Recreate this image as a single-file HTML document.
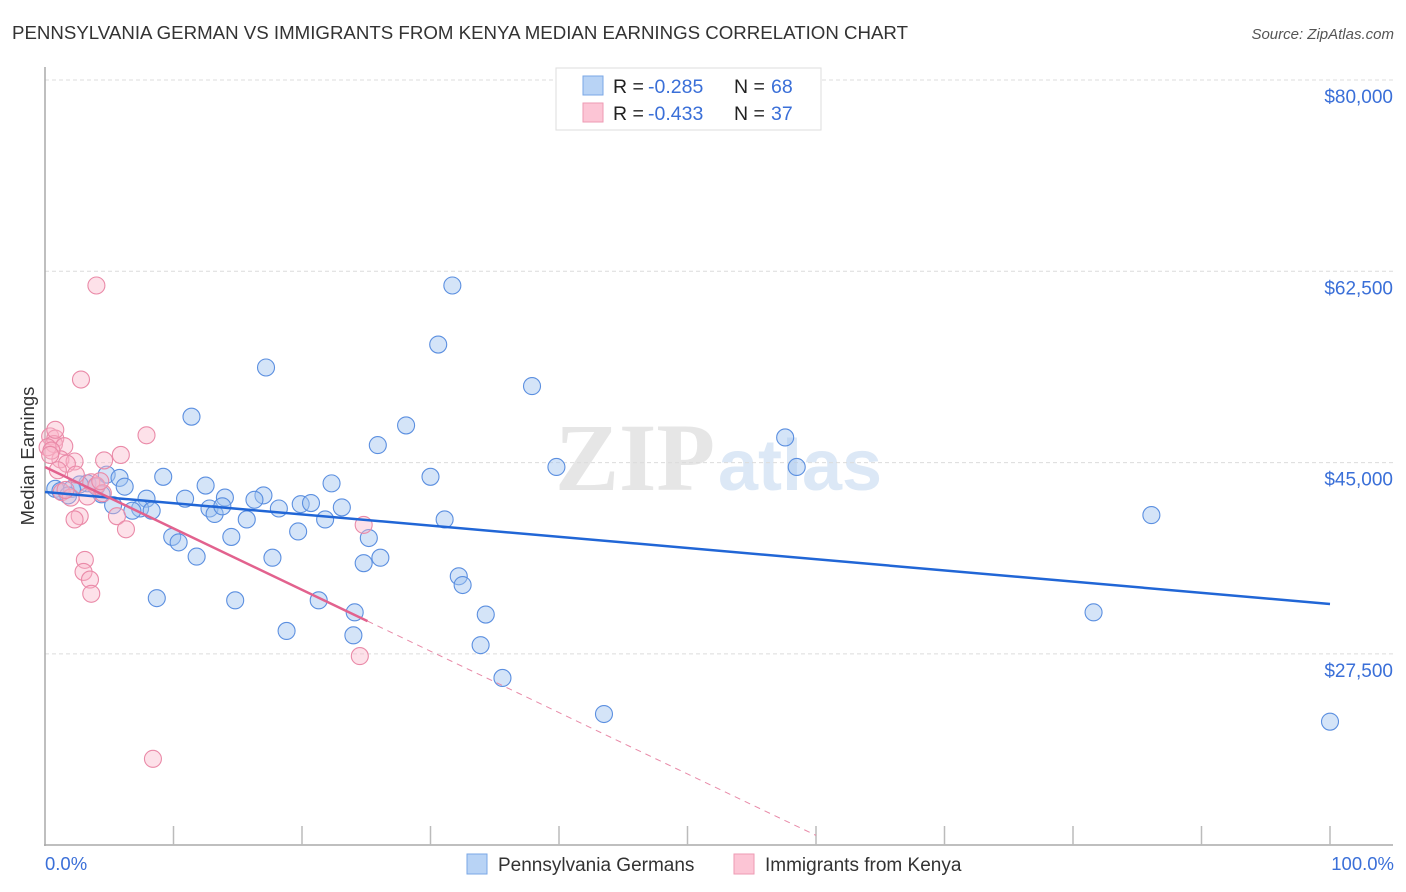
<!DOCTYPE html>
<html><head><meta charset="utf-8">
<style>
body{margin:0;background:#fff;font-family:"Liberation Sans",sans-serif;}
svg{display:block}
</style></head>
<body>
<svg id="chart" width="1406" height="892" xmlns="http://www.w3.org/2000/svg">
<text x="12" y="39" font-size="18.5" fill="#333" textLength="896" lengthAdjust="spacingAndGlyphs">PENNSYLVANIA GERMAN VS IMMIGRANTS FROM KENYA MEDIAN EARNINGS CORRELATION CHART</text>
<text x="1394" y="39" font-size="15" fill="#555" font-style="italic" text-anchor="end">Source: ZipAtlas.com</text>
<text x="0" y="0" transform="translate(34,456) rotate(-90)" font-size="18.5" fill="#333" text-anchor="middle">Median Earnings</text>
<g>
<text x="635" y="490" font-family="Liberation Serif,serif" font-size="96" fill="#e6e6e6" text-anchor="middle" font-weight="bold">ZIP</text>
<text x="800" y="490" font-size="72" fill="#dce8f6" text-anchor="middle" font-weight="bold">atlas</text>
</g>
<g id="grid"></g>
<g id="axes"></g>
<g id="marks"></g>
<g>
<rect x="556" y="68" width="265" height="62" fill="#fff" stroke="#ddd"/>
<rect x="583" y="76" width="20" height="19" fill="#b8d3f5" stroke="#7aa7e6"/>
<rect x="583" y="103" width="20" height="19" fill="#fcc5d5" stroke="#ee9ab3"/>
<text x="613" y="93" font-size="19.5" fill="#222">R = </text>
<text x="648" y="93" font-size="19.5" fill="#3a6fd8">-0.285</text>
<text x="734" y="93" font-size="19.5" fill="#222">N = </text>
<text x="771" y="93" font-size="19.5" fill="#3a6fd8">68</text>
<text x="613" y="120" font-size="19.5" fill="#222">R = </text>
<text x="648" y="120" font-size="19.5" fill="#3a6fd8">-0.433</text>
<text x="734" y="120" font-size="19.5" fill="#222">N = </text>
<text x="771" y="120" font-size="19.5" fill="#3a6fd8">37</text>
</g>
<g>
<rect x="467" y="854" width="20" height="20" fill="#b8d3f5" stroke="#7aa7e6"/>
<text x="498" y="871" font-size="19" fill="#333">Pennsylvania Germans</text>
<rect x="734" y="854" width="20" height="20" fill="#fcc5d5" stroke="#ee9ab3"/>
<text x="765" y="871" font-size="19" fill="#333">Immigrants from Kenya</text>
</g>
<text x="45" y="870" font-size="18.5" fill="#3a6fd8">0.0%</text>
<text x="1394" y="870" font-size="18.5" fill="#3a6fd8" text-anchor="end">100.0%</text>
</svg>
<script>
const yTicks=[80000,62500,45000,27500];
const yTickLabels=["$80,000","$62,500","$45,000","$27,500"];
const xTicks=[0,10,20,30,40,50,60,70,80,90,100];
const blueX=[31.7,30.6,17.2,37.9,11.4,28.1,25.9,57.6,58.5,39.8,9.2,4.8,5.8,3.3,6.2,0.8,4.0,2.7,12.5,30.0,22.3,17.0,16.3,14.0,10.9,7.9,4.4,5.3,7.4,8.3,6.8,12.8,13.2,19.9,20.7,23.1,13.8,18.2,1.2,21.8,15.7,31.1,19.7,9.9,10.4,14.5,25.2,11.8,17.7,26.1,24.8,32.2,32.5,8.7,14.8,21.3,34.3,24.1,18.8,24.0,33.9,35.6,43.5,86.1,81.6,100.0,2.1,1.8];
const blueY=[61200,55800,53700,52000,49200,48400,46600,47300,44600,44600,43700,43900,43600,43100,42800,42600,42800,43000,42900,43700,43100,42000,41600,41800,41700,41700,42100,41100,40800,40600,40600,40800,40300,41200,41300,40900,41000,40800,42400,39800,39800,39800,38700,38200,37700,38200,38100,36400,36300,36300,35800,34600,33800,32600,32400,32400,31100,31300,29600,29200,28300,25300,22000,40200,31300,21300,42600,42000];
const pinkX=[4.0,2.8,7.9,5.9,0.4,0.8,0.7,1.5,0.2,1.2,0.5,2.3,1.7,4.6,2.4,3.6,4.0,1.3,2.0,4.5,2.7,2.3,5.6,6.3,24.8,3.1,3.0,3.5,3.6,24.5,8.4,0.8,0.4,1.0,4.3,3.3,1.6];
const pinkY=[61200,52600,47500,45700,47400,47200,46700,46500,46400,45300,46100,45100,44900,45200,43900,43200,42900,42300,41800,42200,40100,39800,40100,38900,39300,36100,35000,34300,33000,27300,17900,48000,45700,44300,43300,41900,42500];
const blueFit=[42310,32064];
const pinkFit=[44597,30500];
const pinkSolidEnd=25.1;

const NS="http://www.w3.org/2000/svg";
const X0=45,X1=1330,Ytop=80,PX=191.3/17500;
function sx(v){return X0+(X1-X0)*v/100;}
function sy(v){return Ytop+(80000-v)*PX;}
function mk(tag,attrs,parent){const e=document.createElementNS(NS,tag);for(const k in attrs)e.setAttribute(k,attrs[k]);parent.appendChild(e);return e;}
const grid=document.getElementById('grid'),axes=document.getElementById('axes'),marks=document.getElementById('marks');
yTicks.forEach((t,i)=>{
  const l=mk('line',{x1:45,x2:1393,y1:sy(t),y2:sy(t),stroke:'#dcdcdc','stroke-dasharray':'4,3'},grid);
  
  
  const tx=mk('text',{x:1393,y:sy(t)+23,'font-size':19,fill:'#3a6fd8','text-anchor':'end'},grid);
  tx.textContent=yTickLabels[i];
  
  
});
const ya=mk('line',{x1:45,x2:45,y1:67,y2:846,stroke:'#aaa','stroke-width':1.5},axes);


const xa=mk('line',{x1:44,x2:1393,y1:845,y2:845,stroke:'#aaa','stroke-width':1.5},axes);


xTicks.slice(1).forEach(t=>{
  const l=mk('line',{x1:sx(t),x2:sx(t),y1:826,y2:845,stroke:'#bbb','stroke-width':1.5},axes);
  
  
});
blueX.forEach((x,i)=>{
  const c=mk('circle',{cx:sx(x),cy:sy(blueY[i]),r:8.5,fill:'rgba(160,196,240,0.45)',stroke:'#5b8fe0','stroke-width':1.1},marks);
  
  
});
pinkX.forEach((x,i)=>{
  const c=mk('circle',{cx:sx(x),cy:sy(pinkY[i]),r:8.5,fill:'rgba(250,180,200,0.4)',stroke:'#ea8aa8','stroke-width':1.1},marks);
  
  
});
const bl=mk('line',{x1:sx(0),y1:sy(blueFit[0]),x2:sx(100),y2:sy(blueFit[1]),stroke:'#2166d6','stroke-width':2.5},marks);


const pAt=x=>pinkFit[0]+(pinkFit[1]-pinkFit[0])*x/pinkSolidEnd;
const pl=mk('line',{x1:sx(0),y1:sy(pinkFit[0]),x2:sx(pinkSolidEnd),y2:sy(pinkFit[1]),stroke:'#e2628e','stroke-width':2.5},marks);


const pd=mk('line',{x1:sx(pinkSolidEnd),y1:sy(pinkFit[1]),x2:sx(60),y2:sy(pAt(60)),stroke:'#e88aa8','stroke-width':1,'stroke-dasharray':'6,5'},marks);


</script>
</body></html>
